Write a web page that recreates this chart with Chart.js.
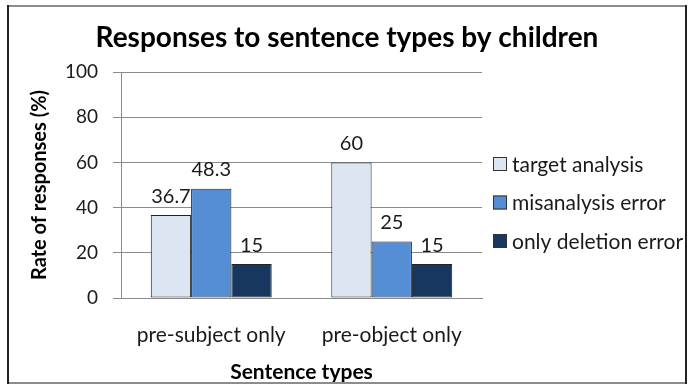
<!DOCTYPE html>
<html>
<head>
<meta charset="utf-8">
<script src="https://cdn.jsdelivr.net/npm/chart.js@4/dist/chart.umd.min.js"></script>
<style>
    html, body { margin: 0; padding: 0; background: #fff; }
    #wrap { width: 688px; height: 385px; }
</style>
</head>
<body>
<div id="wrap"><canvas id="responsesChart" width="688" height="385"></canvas></div>
<script>
const categories = ['pre-subject only', 'pre-object only'];
const seriesNames = ['target analysis', 'misanalysis error', 'only deletion error'];
const targetAnalysis = [36.7, 60];
const misanalysisError = [48.3, 25];
const onlyDeletionError = [15, 15];
const yTickValues = [0, 20, 40, 60, 80, 100];
const seriesColors = ['#DCE6F2', '#558ED5', '#17375E'];
const chartTitle = 'Responses to sentence types by children';

const FONT = 'Lato, "Open Sans", sans-serif';
const TEXT = '#1a1a1a';
const GRID = '#8a8a8a';

// white background, outer frame and centred title (title spans the whole picture, not just the plot)
const framePlugin = {
    id: 'frame',
    beforeDraw(chart) {
        const ctx = chart.ctx;
        ctx.save();
        ctx.fillStyle = '#fff';
        ctx.fillRect(0, 0, chart.width, chart.height);
        ctx.restore();
    },
    afterDraw(chart) {
        const ctx = chart.ctx;
        ctx.save();
        ctx.font = 'bold 28px ' + FONT;
        ctx.fillStyle = '#000';
        ctx.textAlign = 'center';
        ctx.textBaseline = 'middle';
        ctx.fillText(chartTitle, chart.width / 2 + 3, 38);

        ctx.lineWidth = 2;
        ctx.strokeStyle = '#8c8c8c';
        ctx.beginPath();
        ctx.moveTo(7, 6); ctx.lineTo(687, 6);
        ctx.moveTo(7, 383); ctx.lineTo(687, 383);
        ctx.stroke();
        ctx.strokeStyle = '#222';
        ctx.beginPath();
        ctx.moveTo(8, 5); ctx.lineTo(8, 384);
        ctx.moveTo(686, 5); ctx.lineTo(686, 384);
        ctx.stroke();
        ctx.restore();
    }
};

// value labels above each bar
const barValuesPlugin = {
    id: 'barValues',
    afterDatasetsDraw(chart) {
        const ctx = chart.ctx;
        ctx.save();
        ctx.font = '20px ' + FONT;
        ctx.fillStyle = TEXT;
        ctx.textAlign = 'center';
        ctx.textBaseline = 'middle';
        chart.data.datasets.forEach((ds, i) => {
            chart.getDatasetMeta(i).data.forEach((bar, j) => {
                ctx.fillText(String(ds.data[j]), bar.x, bar.y - 19);
            });
        });
        ctx.restore();
    }
};

// legend drawn beside the plot, Excel style
const sideLegendPlugin = {
    id: 'sideLegend',
    afterDraw(chart) {
        const ctx = chart.ctx;
        const left = chart.chartArea.right + 11;
        const firstY = 164;
        const step = 38.5;
        ctx.save();
        ctx.font = '21px ' + FONT;
        ctx.textBaseline = 'middle';
        ctx.textAlign = 'left';
        chart.data.datasets.forEach((ds, i) => {
            const cy = firstY + i * step;
            ctx.fillStyle = ds.backgroundColor;
            ctx.fillRect(left, cy - 7, 14, 14);
            ctx.strokeStyle = '#333';
            ctx.lineWidth = 1;
            ctx.strokeRect(left + 0.5, cy - 6.5, 13, 13);
            ctx.fillStyle = TEXT;
            ctx.fillText(ds.label, left + 19, cy + 1);
        });
        ctx.restore();
    }
};

const seriesData = [targetAnalysis, misanalysisError, onlyDeletionError];

new Chart(document.getElementById('responsesChart').getContext('2d'), {
    type: 'bar',
    data: {
        labels: categories,
        datasets: seriesNames.map((name, i) => ({
            label: name,
            data: seriesData[i],
            backgroundColor: seriesColors[i],
            borderColor: '#222',
            borderWidth: 1,
            borderSkipped: false,
            categoryPercentage: 0.67,
            barPercentage: 1.0
        }))
    },
    options: {
        responsive: false,
        animation: false,
        devicePixelRatio: 1,
        layout: {
            padding: { left: 0, right: 206, top: 72, bottom: 0 }
        },
        plugins: {
            legend: { display: false },
            tooltip: { enabled: false },
            title: { display: false }
        },
        scales: {
            x: {
                grid: { display: false, drawTicks: false },
                border: { display: true, color: GRID, width: 1 },
                ticks: {
                    color: TEXT,
                    font: { family: FONT, size: 21 },
                    padding: 25
                },
                title: {
                    display: true,
                    text: 'Sentence types',
                    color: '#000',
                    font: { family: FONT, size: 21, weight: 'bold', lineHeight: 1.2 },
                    padding: { top: 0, bottom: 0 }
                },
                afterFit(scale) { scale.height = 87; }
            },
            y: {
                min: 0,
                max: 100,
                afterBuildTicks(scale) {
                    scale.ticks = yTickValues.map(v => ({ value: v }));
                },
                grid: { color: GRID, lineWidth: 1, tickLength: 8, drawTicks: true },
                border: { display: true, color: GRID, width: 1 },
                ticks: {
                    color: TEXT,
                    font: { family: FONT, size: 19 },
                    padding: 15
                },
                title: {
                    display: true,
                    text: 'Rate of responses (%)',
                    color: '#000',
                    font: { family: FONT, size: 20, weight: 'bold', lineHeight: 1.2 },
                    padding: { top: 28, bottom: 0 }
                },
                afterFit(scale) { scale.width = 121; }
            }
        }
    },
    plugins: [framePlugin, barValuesPlugin, sideLegendPlugin]
});
</script>
</body>
</html>
